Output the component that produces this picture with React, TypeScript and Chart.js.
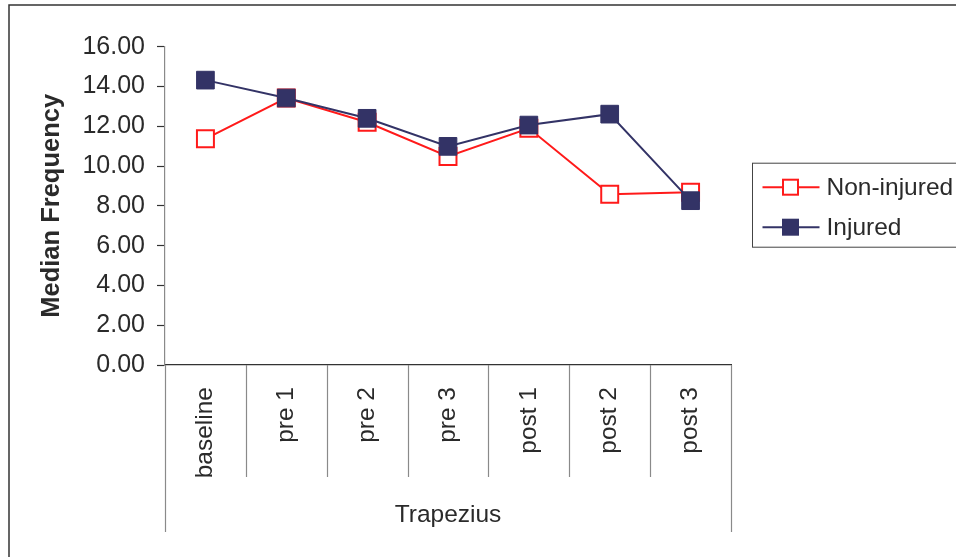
import React, { useEffect, useRef } from "react";
import { Chart, registerables } from "chart.js";

Chart.register(...registerables);

const categories = ["baseline", "pre 1", "pre 2", "pre 3", "post 1", "post 2", "post 3"];
const nonInjured = [11.37, 13.42, 12.2, 10.48, 11.9, 8.58, 8.68];
const injured = [14.32, 13.42, 12.4, 10.99, 12.06, 12.61, 8.26];
const yMin = 0;
const yMax = 16;
const yStep = 2;
const groupLabel = "Trapezius";
const yTitle = "Median Frequency";
const seriesNames = ["Non-injured", "Injured"];

const RED = "#ff1a1a";
const NAVY = "#333366";
const FONT = "'Liberation Sans', Arial, sans-serif";

const decor = {
  id: "decor",
  beforeDraw(chart: any) {
    const ctx = chart.ctx;
    ctx.save();
    ctx.strokeStyle = "#333";
    ctx.lineWidth = 1.5;
    ctx.beginPath();
    ctx.moveTo(9, chart.height + 5);
    ctx.lineTo(9, 5);
    ctx.lineTo(chart.width + 5, 5);
    ctx.stroke();
    ctx.restore();
  },
  afterDraw(chart: any) {
    const ctx = chart.ctx;
    const xs = chart.scales.x;
    const area = chart.chartArea;
    const n = categories.length;
    ctx.save();
    ctx.strokeStyle = "#8a8a8a";
    ctx.lineWidth = 1.2;
    for (let i = 0; i <= n; i++) {
      let px: number;
      if (i === 0) px = area.left;
      else if (i === n) px = area.right;
      else px = (xs.getPixelForTick(i - 1) + xs.getPixelForTick(i)) / 2;
      const len = i === 0 || i === n ? 167 : 112;
      ctx.beginPath();
      ctx.moveTo(Math.round(px) + 0.5, area.bottom);
      ctx.lineTo(Math.round(px) + 0.5, area.bottom + len);
      ctx.stroke();
    }
    ctx.restore();

    // legend
    const lx = area.right + 21.5;
    const ly = area.top + 116.5;
    ctx.save();
    ctx.strokeStyle = "#444";
    ctx.lineWidth = 1;
    ctx.strokeRect(lx, ly, 240, 84);
    const ds = [
      { name: seriesNames[0], color: RED, filled: false },
      { name: seriesNames[1], color: NAVY, filled: true },
    ];
    ds.forEach((d, k) => {
      const y = ly + 24 + k * 40;
      ctx.strokeStyle = d.color;
      ctx.lineWidth = 2;
      ctx.beginPath();
      ctx.moveTo(lx + 10, y);
      ctx.lineTo(lx + 67, y);
      ctx.stroke();
      const cx = lx + 38;
      if (d.filled) {
        ctx.fillStyle = d.color;
        ctx.fillRect(cx - 8.5, y - 8.5, 17, 17);
      } else {
        ctx.fillStyle = "#fff";
        ctx.fillRect(cx - 7.5, y - 7.5, 15, 15);
        ctx.lineWidth = 2;
        ctx.strokeRect(cx - 7.5, y - 7.5, 15, 15);
      }
      ctx.fillStyle = "#2a2a2a";
      ctx.font = `24.5px ${FONT}`;
      ctx.textAlign = "left";
      ctx.textBaseline = "middle";
      ctx.fillText(d.name, lx + 74, y + 1);
    });
    ctx.restore();
  },
};

export default function App() {
  const ref = useRef<HTMLCanvasElement>(null);
  useEffect(() => {
    if (!ref.current) return;
    const chart = new Chart(ref.current, {
      type: "line",
      data: {
        labels: categories,
        datasets: [
          {
            label: seriesNames[0],
            data: nonInjured,
            borderColor: RED,
            backgroundColor: "#ffffff",
            borderWidth: 2,
            pointStyle: "rect",
            pointRadius: 12,
            pointBorderWidth: 2,
            pointBorderColor: RED,
            pointBackgroundColor: "#ffffff",
            tension: 0,
            order: 2,
          },
          {
            label: seriesNames[1],
            data: injured,
            borderColor: NAVY,
            backgroundColor: NAVY,
            borderWidth: 2,
            pointStyle: "rect",
            pointRadius: 12.5,
            pointBorderWidth: 1,
            pointBorderColor: NAVY,
            pointBackgroundColor: NAVY,
            tension: 0,
            order: 1,
          },
        ],
      },
      options: {
        responsive: false,
        animation: false,
        events: [],
        layout: { padding: { top: 46.7, right: 225, bottom: 0, left: 0 } },
        plugins: { legend: { display: false }, tooltip: { enabled: false } },
        scales: {
          x: {
            type: "category",
            offset: true,
            grid: { display: false, drawTicks: false },
            border: { display: true, color: "#333", width: 1.2 },
            ticks: {
              color: "#2a2a2a",
              font: { family: FONT, size: 24.5 },
              minRotation: 90,
              maxRotation: 90,
              padding: 22,
              autoSkip: false,
            },
            title: {
              display: true,
              text: groupLabel,
              color: "#2a2a2a",
              font: { family: FONT, size: 24.5 },
              padding: { top: 0, bottom: 27 },
            },
            afterFit: (s: any) => {
              s.height = 192;
            },
          },
          y: {
            min: yMin,
            max: yMax,
            grid: {
              drawOnChartArea: false,
              drawTicks: true,
              tickLength: 8,
              tickColor: "#333",
              tickWidth: 1.2,
            },
            border: { display: true, color: "#8a8a8a", width: 1.2 },
            ticks: {
              stepSize: yStep,
              color: "#2a2a2a",
              font: { family: FONT, size: 25 },
              padding: 12,
              callback: (v: any) => Number(v).toFixed(2),
            },
            title: {
              display: true,
              text: yTitle,
              color: "#2a2a2a",
              font: { family: FONT, size: 25.5, weight: "bold" },
              padding: { top: 37, bottom: 0 },
            },
            afterFit: (s: any) => {
              s.width = 165;
            },
          },
        },
      },
      plugins: [decor],
    });
    return () => chart.destroy();
  }, []);
  return (
    <div style={{ position: "absolute", left: 0, top: 0, width: 956, height: 557, background: "#fff" }}>
      <canvas ref={ref} width={956} height={557} style={{ display: "block" }} />
    </div>
  );
}
